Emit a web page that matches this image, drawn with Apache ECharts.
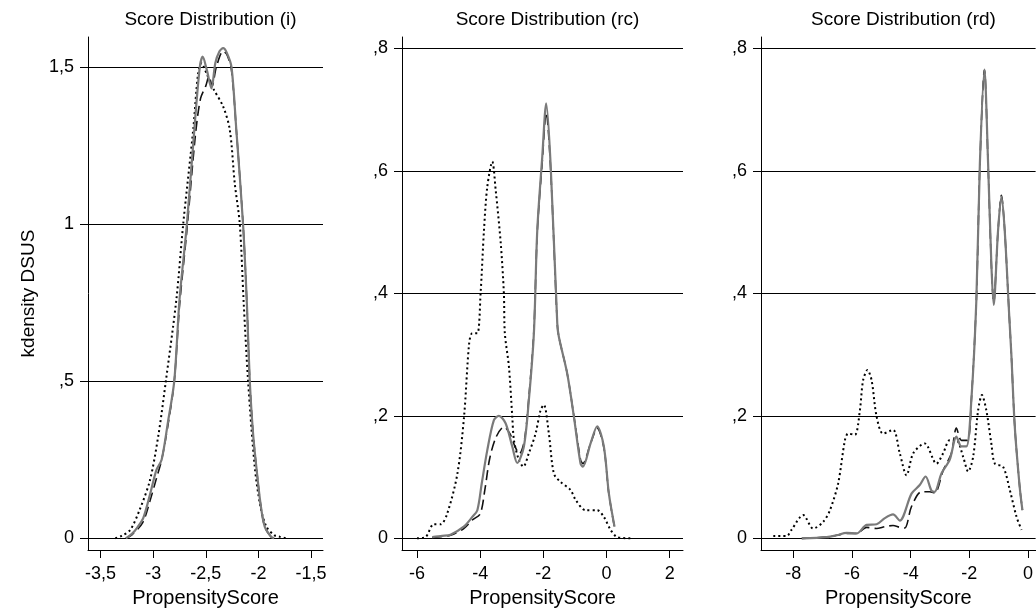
<!DOCTYPE html>
<html>
<head>
<meta charset="utf-8">
<script src="https://cdn.jsdelivr.net/npm/echarts@6/dist/echarts.min.js"></script>
<style>html,body{margin:0;padding:0;background:#fff}#c{width:1036px;height:616px}</style>
</head>
<body>
<div id="c"></div>
<script>
const titles = ['Score Distribution (i)', 'Score Distribution (rc)', 'Score Distribution (rd)'];
const xName = 'PropensityScore';
const yName = 'kdensity DSUS';

const iXTicks = [-3.5, -3, -2.5, -2, -1.5];
const iYTicks = [0, 0.5, 1, 1.5];
const rcXTicks = [-6, -4, -2, 0, 2];
const rcYTicks = [0, 0.2, 0.4, 0.6, 0.8];
const rdXTicks = [-8, -6, -4, -2, 0];
const rdYTicks = [0, 0.2, 0.4, 0.6, 0.8];

// Panel (i)
const iDotted = [[-3.36,0],[-3.3,0.008],[-3.22,0.026],[-3.13,0.09],[-3.03,0.186],[-2.95,0.33],[-2.88,0.5],[-2.78,0.76],[-2.715,1.0],[-2.62,1.3],[-2.573,1.48],[-2.541,1.512],[-2.494,1.48],[-2.43,1.432],[-2.335,1.374],[-2.272,1.3],[-2.225,1.13],[-2.177,1.0],[-2.14,0.75],[-2.098,0.5],[-2.035,0.228],[-1.98,0.1],[-1.924,0.037],[-1.85,0.01],[-1.797,0.005],[-1.734,0]];
const iDashed = [[-3.26,0],[-3.2,0.012],[-3.1,0.05],[-3.03,0.12],[-2.97,0.19],[-2.92,0.25],[-2.86,0.36],[-2.80,0.5],[-2.75,0.74],[-2.68,0.98],[-2.6,1.28],[-2.55,1.40],[-2.5,1.44],[-2.47,1.47],[-2.44,1.44],[-2.4,1.50],[-2.335,1.55],[-2.30,1.54],[-2.256,1.49],[-2.21,1.30],[-2.146,1.0],[-2.11,0.75],[-2.082,0.5],[-2.05,0.33],[-2.02,0.228],[-1.98,0.11],[-1.94,0.037],[-1.88,0.005],[-1.85,0]];
const iSolid = [[-3.26,0],[-3.2,0.015],[-3.15,0.035],[-3.095,0.064],[-3.03,0.14],[-2.97,0.217],[-2.92,0.25],[-2.86,0.37],[-2.80,0.5],[-2.75,0.76],[-2.68,1.0],[-2.6,1.34],[-2.557,1.50],[-2.53,1.533],[-2.49,1.49],[-2.446,1.432],[-2.41,1.512],[-2.37,1.55],[-2.335,1.56],[-2.30,1.545],[-2.256,1.50],[-2.21,1.30],[-2.146,1.0],[-2.11,0.75],[-2.082,0.5],[-2.05,0.33],[-2.02,0.228],[-1.98,0.11],[-1.94,0.037],[-1.88,0.005],[-1.85,0]];

// Panel (rc)
const rcDotted = [[-6.0,0],[-5.73,0.002],[-5.47,0.023],[-5.25,0.023],[-5.04,0.041],[-4.72,0.106],[-4.51,0.199],[-4.35,0.318],[-4.25,0.335],[-4.09,0.335],[-3.987,0.4],[-3.88,0.503],[-3.775,0.574],[-3.617,0.615],[-3.51,0.569],[-3.35,0.482],[-3.25,0.4],[-3.22,0.335],[-3.09,0.28],[-2.985,0.199],[-2.93,0.16],[-2.775,0.128],[-2.636,0.117],[-2.459,0.139],[-2.247,0.171],[-2.09,0.209],[-1.984,0.218],[-1.826,0.171],[-1.668,0.106],[-1.456,0.092],[-1.14,0.079],[-0.98,0.063],[-0.665,0.046],[-0.296,0.046],[-0.085,0.035],[0.127,0.014],[0.34,0.002],[0.76,0]];
const rcDashed = [[-5.52,0.001],[-5.2,0.003],[-4.94,0.005],[-4.52,0.016],[-4.25,0.03],[-4.0,0.04],[-3.85,0.08],[-3.7,0.13],[-3.5,0.165],[-3.25,0.182],[-3.05,0.17],[-2.9,0.15],[-2.76,0.138],[-2.6,0.16],[-2.459,0.23],[-2.3,0.34],[-2.193,0.5],[-2.035,0.615],[-1.91,0.695],[-1.772,0.605],[-1.56,0.35],[-1.51,0.329],[-1.245,0.269],[-1.035,0.2],[-0.823,0.128],[-0.75,0.122],[-0.506,0.155],[-0.296,0.18],[-0.085,0.148],[0.074,0.072],[0.253,0.018]];
const rcSolid = [[-5.52,0.002],[-5.2,0.004],[-4.94,0.006],[-4.52,0.019],[-4.25,0.035],[-4.09,0.046],[-3.95,0.09],[-3.775,0.144],[-3.566,0.193],[-3.41,0.2],[-3.196,0.188],[-2.985,0.15],[-2.826,0.123],[-2.617,0.15],[-2.459,0.226],[-2.3,0.335],[-2.193,0.503],[-2.035,0.623],[-1.91,0.71],[-1.772,0.612],[-1.56,0.351],[-1.51,0.329],[-1.245,0.269],[-1.035,0.199],[-0.823,0.122],[-0.75,0.117],[-0.506,0.155],[-0.296,0.183],[-0.085,0.15],[0.074,0.073],[0.253,0.019]];

// Panel (rd)
const rdDotted = [[-8.68,0.004],[-8.22,0.004],[-8.06,0.014],[-7.66,0.038],[-7.32,0.016],[-6.98,0.027],[-6.75,0.046],[-6.47,0.09],[-6.24,0.16],[-6.13,0.171],[-5.9,0.169],[-5.73,0.209],[-5.62,0.258],[-5.47,0.275],[-5.33,0.258],[-5.16,0.199],[-4.94,0.171],[-4.6,0.177],[-4.37,0.139],[-4.14,0.103],[-3.91,0.139],[-3.52,0.155],[-3.12,0.122],[-2.89,0.139],[-2.67,0.16],[-2.44,0.16],[-2.21,0.133],[-2.04,0.109],[-1.87,0.133],[-1.70,0.209],[-1.57,0.234],[-1.42,0.209],[-1.25,0.155],[-1.13,0.122],[-0.85,0.117],[-0.62,0.079],[-0.39,0.035],[-0.22,0.014]];
const rdDashed = [[-7.71,0],[-6.86,0.002],[-6.52,0.005],[-6.18,0.008],[-5.84,0.008],[-5.5,0.018],[-5.16,0.016],[-4.88,0.019],[-4.6,0.021],[-4.37,0.018],[-4.2,0.017],[-3.97,0.052],[-3.63,0.076],[-3.35,0.076],[-3.18,0.074],[-2.89,0.111],[-2.61,0.139],[-2.44,0.18],[-2.27,0.16],[-2.06,0.16],[-1.93,0.226],[-1.76,0.389],[-1.64,0.61],[-1.485,0.765],[-1.36,0.61],[-1.25,0.449],[-1.17,0.385],[-1.02,0.503],[-0.906,0.56],[-0.794,0.503],[-0.647,0.37],[-0.567,0.3],[-0.45,0.182],[-0.283,0.084],[-0.19,0.046]];
const rdSolid = [[-7.71,0],[-6.86,0.002],[-6.52,0.005],[-6.18,0.009],[-5.84,0.008],[-5.5,0.022],[-5.16,0.023],[-4.88,0.033],[-4.6,0.039],[-4.37,0.029],[-3.97,0.073],[-3.69,0.087],[-3.49,0.101],[-3.29,0.078],[-3.18,0.076],[-2.95,0.106],[-2.67,0.128],[-2.44,0.166],[-2.27,0.15],[-2.10,0.15],[-1.93,0.226],[-1.76,0.389],[-1.64,0.612],[-1.485,0.765],[-1.36,0.612],[-1.25,0.449],[-1.17,0.381],[-1.02,0.503],[-0.906,0.558],[-0.794,0.503],[-0.647,0.37],[-0.567,0.3],[-0.45,0.182],[-0.283,0.084],[-0.19,0.046]];

const FONT = '"Liberation Sans", Arial, sans-serif';
function fmt(v) {
  let s = String(+(+v).toFixed(2)).replace('.', ',');
  s = s.replace(/^(-?)0,/, '$1,');
  return s;
}

const panels = [
  {title: titles[0], grid: {left: 88, width: 235, top: 37, height: 513}, xMin: -3.62, xMax: -1.386, yMin: -0.0372, yMax: 1.5955, xT: iXTicks, yT: iYTicks, data: [iDotted, iDashed, iSolid], yName: yName},
  {title: titles[1], grid: {left: 402, width: 281, top: 37, height: 513}, xMin: -6.475, xMax: 2.42, yMin: -0.019, yMax: 0.8184, xT: rcXTicks, yT: rcYTicks, data: [rcDotted, rcDashed, rcSolid], yName: ''},
  {title: titles[2], grid: {left: 761, width: 275, top: 37, height: 513}, xMin: -9.1, xMax: 0.26, yMin: -0.019, yMax: 0.8184, xT: rdXTicks, yT: rdYTicks, data: [rdDotted, rdDashed, rdSolid], yName: ''}
];

const option = {
  animation: false,
  backgroundColor: '#fff',
  textStyle: {fontFamily: FONT, color: '#000'},
  title: [], grid: [], xAxis: [], yAxis: [], series: []
};

panels.forEach((p, i) => {
  option.grid.push(Object.assign({containLabel: false}, p.grid));
  option.title.push({
    text: p.title, left: p.grid.left + p.grid.width / 2, top: 5, textAlign: 'center',
    textStyle: {fontFamily: FONT, fontSize: 19, fontWeight: 'normal', color: '#000'}
  });
  option.xAxis.push({
    type: 'value', gridIndex: i, min: p.xMin, max: p.xMax,
    name: xName, nameLocation: 'middle', nameGap: 38,
    nameTextStyle: {fontFamily: FONT, fontSize: 20, color: '#000'},
    axisLine: {show: true, onZero: false, lineStyle: {color: '#000', width: 1}},
    axisTick: {show: true, length: 8, customValues: p.xT, lineStyle: {color: '#000'}},
    axisLabel: {show: true, customValues: p.xT, margin: 15, fontFamily: FONT, fontSize: 18, color: '#000', formatter: fmt},
    splitLine: {show: false}
  });
  option.yAxis.push({
    type: 'value', gridIndex: i, min: p.yMin, max: p.yMax,
    name: p.yName, nameLocation: 'middle', nameGap: 50,
    nameTextStyle: {fontFamily: FONT, fontSize: 19, color: '#000'},
    axisLine: {show: true, onZero: false, lineStyle: {color: '#000', width: 1}},
    axisTick: {show: true, length: 8, customValues: p.yT, lineStyle: {color: '#000'}},
    axisLabel: {show: true, customValues: p.yT, margin: 14, fontFamily: FONT, fontSize: 18, color: '#000', formatter: fmt},
    splitLine: {show: false}
  });
  const styles = [
    {color: '#000', width: 2, type: [2, 3]},
    {color: '#111', width: 1.6, type: [10, 5]},
    {color: '#7a7a7a', width: 2.2, type: 'solid'}
  ];
  p.data.forEach((d, k) => {
    const s = {
      type: 'line', xAxisIndex: i, yAxisIndex: i, data: d, showSymbol: false, symbol: 'none',
      smooth: 0.3, lineStyle: styles[k], silent: true, z: 3 + k
    };
    if (k === 0) {
      s.markLine = {
        silent: true, symbol: ['none', 'none'], label: {show: false},
        lineStyle: {color: '#000', width: 1, type: 'solid'},
        emphasis: {disabled: true},
        data: p.yT.map(v => ({yAxis: v}))
      };
    }
    option.series.push(s);
  });
});

const chart = echarts.init(document.getElementById('c'), null, {renderer: 'canvas'});
chart.setOption(option);
</script>
</body>
</html>
